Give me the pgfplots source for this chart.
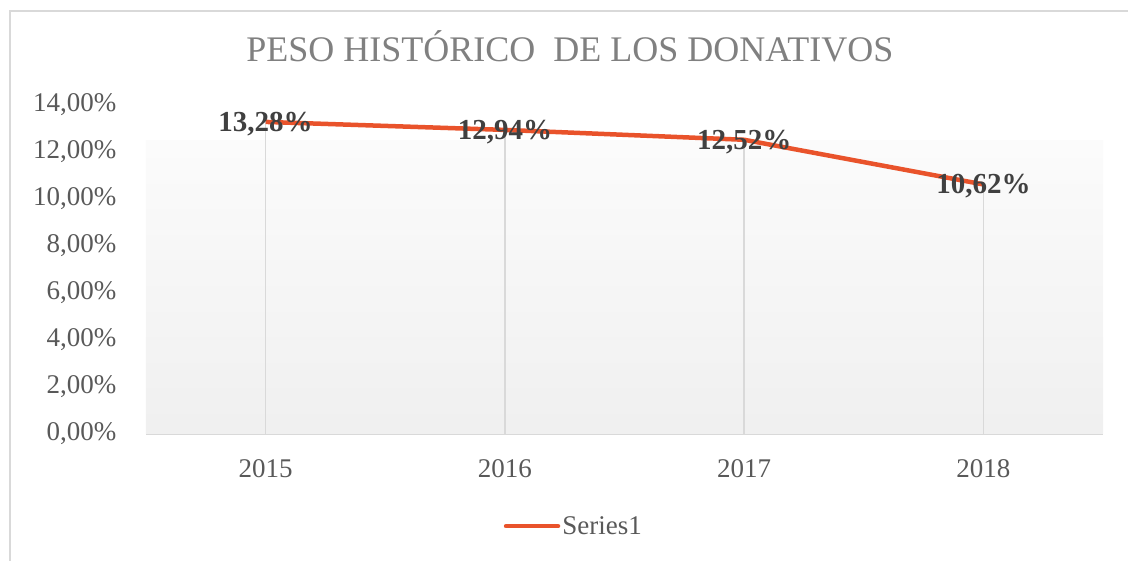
\documentclass[border=0pt]{standalone}
\usepackage{pgfplots}
\pgfplotsset{compat=1.18}
\usepackage{fontspec}
\setmainfont{Liberation Serif}
\definecolor{lineorange}{HTML}{E9532B}
\definecolor{gridgray}{HTML}{D9D9D9}
\definecolor{ticktext}{HTML}{595959}
\definecolor{titletext}{HTML}{808080}
\definecolor{labeltext}{HTML}{404040}
\begin{document}
\begin{tikzpicture}[x=1pt,y=1pt]
\path[use as bounding box] (0,0) rectangle (1128,561);
\draw[gridgray, line width=2pt] (10,0) -- (10,550) -- (1128,550);
\begin{axis}[
  at={(146pt,127pt)}, anchor=south west,
  scale only axis, width=957pt, height=329pt,
  xmin=-0.5, xmax=3.5, ymin=0, ymax=14,
  xtick={0,1,2,3}, xticklabels={2015,2016,2017,2018},
  ytick={0,2,4,6,8,10,12,14},
  yticklabel={\pgfmathprintnumber[fixed,fixed zerofill,precision=2,use comma,assume math mode=true]{\tick}\%},
  major tick length=0pt,
  axis x line*=bottom, axis y line*=left,
  x axis line style={gridgray, line width=2pt, -},
  y axis line style={draw=none, -},
  xmajorgrids=false, ymajorgrids=false,
  tick label style={font=\fontsize{27}{32}\selectfont, text=ticktext},
  yticklabel style={anchor=east, xshift=-26pt},
  xticklabel style={yshift=-22pt},
  title={PESO HISTÓRICO\ \ DE LOS DONATIVOS},
  title style={at={(axis description cs:0.443,1.161)}, anchor=center, font=\fontsize{36}{40}\selectfont, text=titletext},
  legend style={at={(axis description cs:0.447,-0.280)}, anchor=center, draw=none, fill=none,
    font=\fontsize{27}{32}\selectfont, text=ticktext},
  legend image code/.code={\draw[lineorange, line width=4.5pt, line cap=round] (0pt,0pt) -- (52pt,0pt);},
  clip=false,
]
\addplot[draw=none, top color=black!1.5, bottom color=black!6, forget plot] coordinates {(-0.5,0) (-0.5,12.5) (3.5,12.5) (3.5,0)} -- cycle;
\addplot[ycomb, gridgray, line width=1.5pt, no marks, forget plot] coordinates {(0,13.28) (1,12.94) (2,12.52) (3,10.62)};
\addplot[lineorange, line width=4.5pt, line join=round,
  nodes near coords={\pgfmathprintnumber[fixed,fixed zerofill,precision=2,use comma,assume math mode=true]{\pgfplotspointmeta}\%},
  nodes near coords style={anchor=center, yshift=-2pt, font=\fontsize{29}{32}\selectfont\bfseries, text=labeltext},
] coordinates {(0,13.28) (1,12.94) (2,12.52) (3,10.62)};
\addlegendentry{Series1}
\end{axis}
\end{tikzpicture}
\end{document}
